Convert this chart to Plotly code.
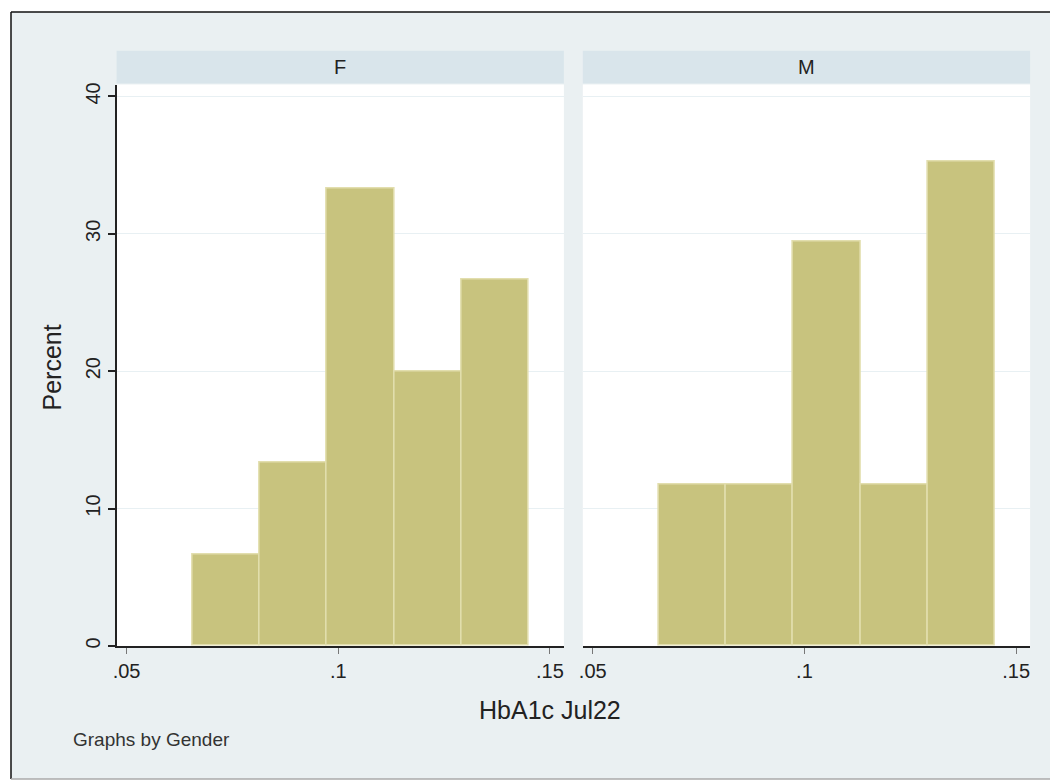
import plotly.graph_objects as go

# ---- data ----
genders = ["F", "M"]
bin_start = 0.0656
bin_width = 0.01588
pct_F = [6.67, 13.33, 33.33, 20.0, 26.67]
pct_M = [11.76, 11.76, 29.41, 11.76, 35.29]
x_ticks = [0.05, 0.1, 0.15]
x_tick_labels = [".05", ".1", ".15"]
y_ticks = [0, 10, 20, 30, 40]
y_tick_labels = ["0", "10", "20", "30", "40"]

OFF = 8  # default page body margin
W, H = 1050, 776
BG = "#EAF0F2"
STRIP = "#D9E5EB"
GRID = "#E8F0F3"
BAR = "#C8C37E"
BAR_LINE = "#E2DEAE"
FONT = "Liberation Sans"

def px(x):
    return (x - OFF) / W

def py(y):
    return 1 - (y - OFF) / H

centers = [bin_start + bin_width * (i + 0.5) for i in range(len(pct_F))]

fig = go.Figure()
for i, vals in enumerate([pct_F, pct_M]):
    fig.add_trace(go.Bar(
        x=centers, y=vals, width=[bin_width] * len(vals),
        marker=dict(color=BAR, line=dict(color=BAR_LINE, width=1.5)),
        xaxis="x" if i == 0 else "x2", yaxis="y" if i == 0 else "y2",
        showlegend=False, hoverinfo="x+y",
    ))

xr = [0.04765, 0.1533]
yr = [0, 40.87]
xdom = [[px(113), px(562)], [px(581), px(1030)]]
ydom = [py(648), py(83)]

common_x = dict(range=xr, tickvals=x_ticks, ticktext=x_tick_labels, showgrid=False,
                zeroline=False, showline=True, linecolor="#222", linewidth=1.5,
                ticks="outside", ticklen=6, tickcolor="#777", tickwidth=1,
                tickfont=dict(family=FONT, size=20, color="#222"), fixedrange=True)

fig.update_layout(
    width=W, height=H, margin=dict(l=0, r=0, t=0, b=0),
    paper_bgcolor="white", plot_bgcolor="white", bargap=0,
    xaxis=dict(domain=xdom[0], anchor="y", **common_x),
    xaxis2=dict(domain=xdom[1], anchor="y2", **common_x),
    yaxis=dict(domain=ydom, range=yr, anchor="x", tickvals=y_ticks, ticktext=y_tick_labels,
               showgrid=True, gridcolor=GRID, gridwidth=1, zeroline=False,
               showline=True, linecolor="#222", linewidth=1.5,
               ticks="outside", ticklen=7, tickcolor="#222", tickwidth=1.5,
               tickangle=-90, tickfont=dict(family=FONT, size=20, color="#222"), fixedrange=True),
    yaxis2=dict(domain=ydom, range=yr, anchor="x2", tickvals=y_ticks,
                showgrid=True, gridcolor=GRID, gridwidth=1, zeroline=False,
                showline=False, showticklabels=False, ticks="", fixedrange=True),
)

shapes = [
    dict(type="rect", xref="paper", yref="paper", x0=px(7), x1=px(1070), y0=py(782), y1=py(10),
         fillcolor=BG, line=dict(width=0), layer="below"),
    dict(type="line", xref="paper", yref="paper", x0=px(7), x1=px(7), y0=py(782), y1=py(10),
         line=dict(color="#111", width=1.5)),
    dict(type="line", xref="paper", yref="paper", x0=px(7), x1=px(1070), y0=py(10), y1=py(10),
         line=dict(color="#111", width=1.5)),
    dict(type="line", xref="paper", yref="paper", x0=px(7), x1=px(1070), y0=py(782), y1=py(782),
         line=dict(color="#aaa", width=1.5)),
]
annotations = []
for i, g in enumerate(genders):
    shapes.append(dict(type="rect", xref="paper", yref="paper", x0=xdom[i][0], x1=xdom[i][1],
                       y0=ydom[0], y1=ydom[1], fillcolor="white", line=dict(width=0), layer="below"))
    shapes.append(dict(type="rect", xref="paper", yref="paper", x0=xdom[i][0], x1=xdom[i][1],
                       y0=py(82), y1=py(49), fillcolor=STRIP, line=dict(width=0), layer="below"))
    annotations.append(dict(text=g, xref="paper", yref="paper", x=(xdom[i][0] + xdom[i][1]) / 2,
                            y=py(65.5), showarrow=False, xanchor="center", yanchor="middle",
                            font=dict(family=FONT, size=20, color="#222")))

annotations += [
    dict(text="Percent", xref="paper", yref="paper", x=px(48), y=py(368), textangle=-90,
         showarrow=False, xanchor="center", yanchor="middle",
         font=dict(family=FONT, size=25, color="#222")),
    dict(text="HbA1c Jul22", xref="paper", yref="paper", x=px(548), y=py(713),
         showarrow=False, xanchor="center", yanchor="middle",
         font=dict(family=FONT, size=25, color="#222")),
    dict(text="Graphs by Gender", xref="paper", yref="paper", x=px(67), y=py(742),
         showarrow=False, xanchor="left", yanchor="middle",
         font=dict(family=FONT, size=19, color="#333")),
]
fig.update_layout(shapes=shapes, annotations=annotations)

fig.write_html("out.html")
